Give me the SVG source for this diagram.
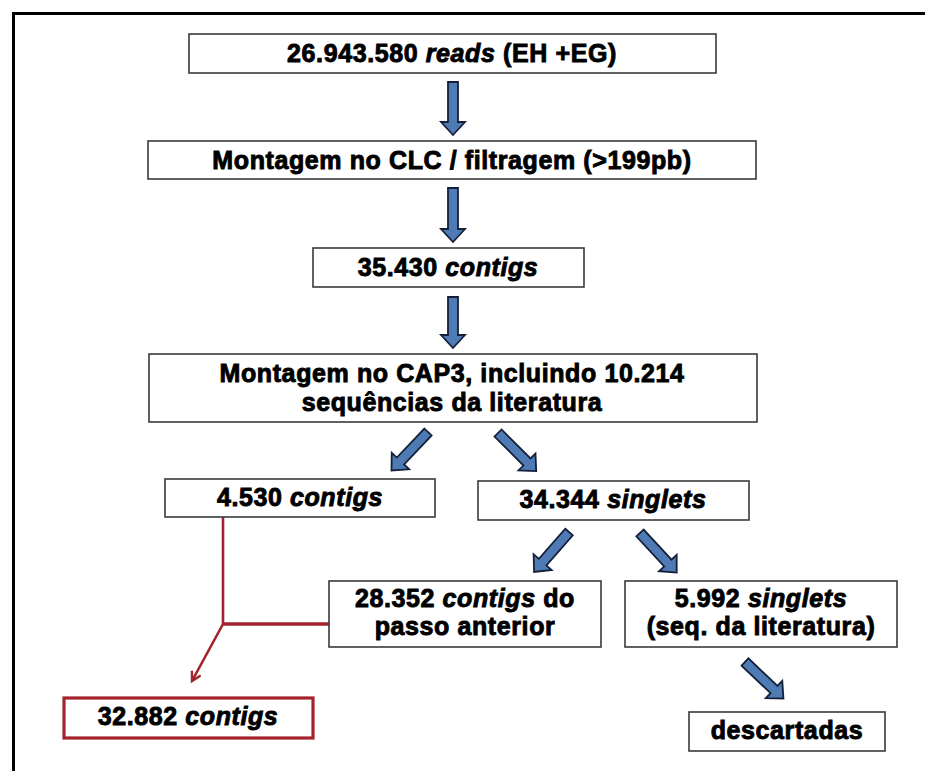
<svg xmlns="http://www.w3.org/2000/svg" width="925" height="771" viewBox="0 0 925 771">
<defs>
<style>
.box{fill:#fff;stroke:#3a3a3a;stroke-width:1.6}
.rbox{fill:#fff;stroke:#a3222b;stroke-width:3.2}
.t{font-family:"Liberation Sans",Arial,sans-serif;font-weight:bold;font-size:25px;letter-spacing:0.6px;fill:#000;stroke:#000;stroke-width:0.9;text-anchor:middle}
.i{font-style:italic}
.ba{fill:#4f7bb5;stroke:#14203a;stroke-width:1.8;stroke-linejoin:miter}
.red{fill:none;stroke:#a3222b}
</style>
<path id="a53" d="M-5,0H5V40H12L0,53L-12,40H-5Z"/>
<path id="a54" d="M-5,0H5V41H12L0,54L-12,41H-5Z"/>
<path id="a51" d="M-5,0H5V38H12L0,51L-12,38H-5Z"/>
<marker id="rh" markerWidth="14" markerHeight="14" refX="10" refY="6" orient="auto" markerUnits="userSpaceOnUse">
<path d="M1,1L10,6L1,11" fill="none" stroke="#a3222b" stroke-width="2.4"/>
</marker>
</defs>
<rect width="925" height="771" fill="#fff"/>
<path d="M13.5,771V13.5H925" fill="none" stroke="#000" stroke-width="3"/>

<g id="connectors">
<use href="#a53" class="ba" transform="translate(453,82)"/>
<use href="#a54" class="ba" transform="translate(453,188)"/>
<use href="#a51" class="ba" transform="translate(453,297)"/>
<use href="#a53" class="ba" transform="translate(428,432) rotate(43.5)"/>
<use href="#a54" class="ba" transform="translate(498,433) rotate(-45)"/>
<use href="#a53" class="ba" transform="translate(569,532) rotate(41.2)"/>
<use href="#a54" class="ba" transform="translate(640,533) rotate(-42.8)"/>
<use href="#a53" class="ba" transform="translate(745,662) rotate(-46.5)"/>
<path class="red" d="M223,517V624" stroke-width="2.6"/>
<path class="red" d="M223,624H329" stroke-width="3.4"/>
<path class="red" d="M223,624L192,681" stroke-width="2.6" marker-end="url(#rh)"/>
</g>

<g id="n1"><rect class="box" x="189" y="34" width="527" height="39"/>
<text class="t" x="452" y="62">26.943.580 <tspan class="i">reads</tspan> (EH +EG)</text></g>

<g id="n2"><rect class="box" x="148" y="141" width="608" height="38"/>
<text class="t" x="452" y="169">Montagem no CLC / filtragem (&gt;199pb)</text></g>

<g id="n3"><rect class="box" x="313" y="248" width="271" height="39"/>
<text class="t" x="448" y="276">35.430 <tspan class="i">contigs</tspan></text></g>

<g id="n4"><rect class="box" x="149" y="354" width="608" height="68"/>
<text class="t" x="452" y="382">Montagem no CAP3, incluindo 10.214</text>
<text class="t" x="452" y="411">sequências da literatura</text></g>

<g id="n5"><rect class="box" x="165" y="479" width="270" height="38"/>
<text class="t" x="300" y="506">4.530 <tspan class="i">contigs</tspan></text></g>

<g id="n6"><rect class="box" x="478" y="481" width="271" height="39"/>
<text class="t" x="613" y="508">34.344 <tspan class="i">singlets</tspan></text></g>

<g id="n7"><rect class="box" x="329" y="581" width="272" height="66"/>
<text class="t" x="465" y="607">28.352 <tspan class="i">contigs</tspan> do</text>
<text class="t" x="465" y="635">passo anterior</text></g>

<g id="n8"><rect class="box" x="625" y="581" width="272" height="66"/>
<text class="t" x="761" y="607">5.992 <tspan class="i">singlets</tspan></text>
<text class="t" x="761" y="635">(seq. da literatura)</text></g>

<g id="n9"><rect class="box" x="689" y="712" width="196" height="39"/>
<text class="t" x="787" y="739">descartadas</text></g>

<g id="n10"><rect class="rbox" x="64" y="698" width="249" height="40"/>
<text class="t" x="188" y="725">32.882 <tspan class="i">contigs</tspan></text></g>
</svg>
